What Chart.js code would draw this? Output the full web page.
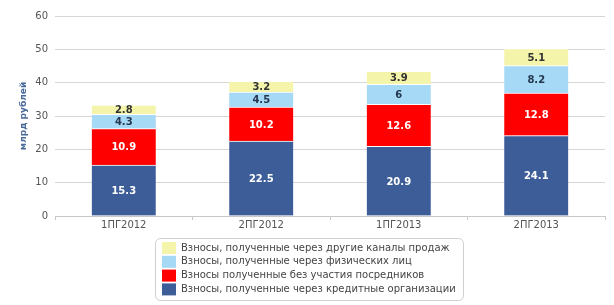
<!DOCTYPE html>
<html>
<head>
<meta charset="utf-8">
<script src="https://cdn.jsdelivr.net/npm/chart.js@4"></script>
<style>
  html, body { margin: 0; padding: 0; background: #fff; }
  #wrap { width: 614px; height: 305px; position: relative; }
</style>
</head>
<body>
<div id="wrap"><canvas id="vznosy"></canvas></div>
<script>
// categories and series (млрд рублей)
const periods = ['1ПГ2012', '2ПГ2012', '1ПГ2013', '2ПГ2013'];
const creditOrgs = [15.3, 22.5, 20.9, 24.1];
const direct = [10.9, 10.2, 12.6, 12.8];
const individuals = [4.3, 4.5, 6, 8.2];
const otherChannels = [2.8, 3.2, 3.9, 5.1];
const yTicks = [0, 10, 20, 30, 40, 50, 60];

const FONT = "'DejaVu Sans', Verdana, sans-serif";

// values written inside each segment
const segmentLabels = {
  id: 'segmentLabels',
  afterDatasetsDraw(chart) {
    const ctx = chart.ctx;
    ctx.save();
    ctx.font = 'bold 10px ' + FONT;
    ctx.textAlign = 'center';
    ctx.textBaseline = 'middle';
    chart.data.datasets.forEach((ds, i) => {
      chart.getDatasetMeta(i).data.forEach((bar, j) => {
        const mid = (bar.y + bar.base) / 2;
        ctx.fillStyle = ds.labelColor;
        ctx.fillText(String(ds.data[j]), bar.x, mid + 1);
      });
    });
    ctx.restore();
  }
};

// boxed legend under the chart, one series per line, top series first
const boxLegend = {
  id: 'boxLegend',
  afterDraw(chart) {
    const ctx = chart.ctx;
    const left = 155, top = 238, w = 308, h = 62, r = 5;
    ctx.save();
    ctx.beginPath();
    ctx.roundRect(left + 0.5, top + 0.5, w, h, r);
    ctx.fillStyle = '#fff';
    ctx.fill();
    ctx.strokeStyle = '#cfcfcf';
    ctx.lineWidth = 1;
    ctx.stroke();
    ctx.font = '10px ' + FONT;
    ctx.textBaseline = 'middle';
    const items = chart.data.datasets.slice().reverse();
    items.forEach((ds, k) => {
      const cy = top + 10 + k * 13.8;
      ctx.fillStyle = ds.backgroundColor;
      ctx.fillRect(162, cy - 6, 14, 12);
      ctx.fillStyle = '#444';
      ctx.fillText(ds.label, 181, cy);
    });
    ctx.restore();
  }
};

new Chart(document.getElementById('vznosy'), {
  type: 'bar',
  data: {
    labels: periods,
    datasets: [
      { label: 'Взносы, полученные через кредитные организации', data: creditOrgs,
        backgroundColor: '#3d5d98', labelColor: '#ffffff' },
      { label: 'Взносы полученные без участия посредников', data: direct,
        backgroundColor: '#fe0000', labelColor: '#ffffff' },
      { label: 'Взносы, полученные через физических лиц', data: individuals,
        backgroundColor: '#a6d9f6', labelColor: '#23364d' },
      { label: 'Взносы, полученные через другие каналы продаж', data: otherChannels,
        backgroundColor: '#f4f4aa', labelColor: '#333333' }
    ].map(ds => Object.assign(ds, {
      barThickness: 64,
      borderColor: '#ffffff',
      borderWidth: { top: 1, left: 0, right: 0, bottom: 0 },
      borderSkipped: false
    }))
  },
  options: {
    responsive: true,
    maintainAspectRatio: false,
    animation: false,
    layout: { padding: { top: 16, right: 9, bottom: 0, left: 0 } },
    plugins: {
      legend: { display: false },
      tooltip: { enabled: false }
    },
    scales: {
      x: {
        stacked: true,
        afterFit: s => { s.height = 89; },
        grid: { offset: true, drawOnChartArea: false, tickLength: 4, color: '#c8c8c8' },
        border: { color: '#c8c8c8' },
        ticks: { color: '#555', font: { family: FONT, size: 10 }, padding: -1 }
      },
      y: {
        stacked: true,
        min: 0,
        max: 60,
        afterFit: s => { s.width = 55; },
        afterBuildTicks: s => { s.ticks = yTicks.map(v => ({ value: v })); },
        grid: { color: '#d6d6d6', drawTicks: false },
        border: { display: false },
        ticks: { color: '#555', font: { family: FONT, size: 10 }, padding: 7 },
        title: {
          display: true,
          text: 'млрд рублей',
          color: '#4a6a9a',
          font: { family: FONT, size: 9, weight: 'bold' },
          padding: { top: 18, bottom: 0 }
        }
      }
    }
  },
  plugins: [segmentLabels, boxLegend]
});
</script>
</body>
</html>
